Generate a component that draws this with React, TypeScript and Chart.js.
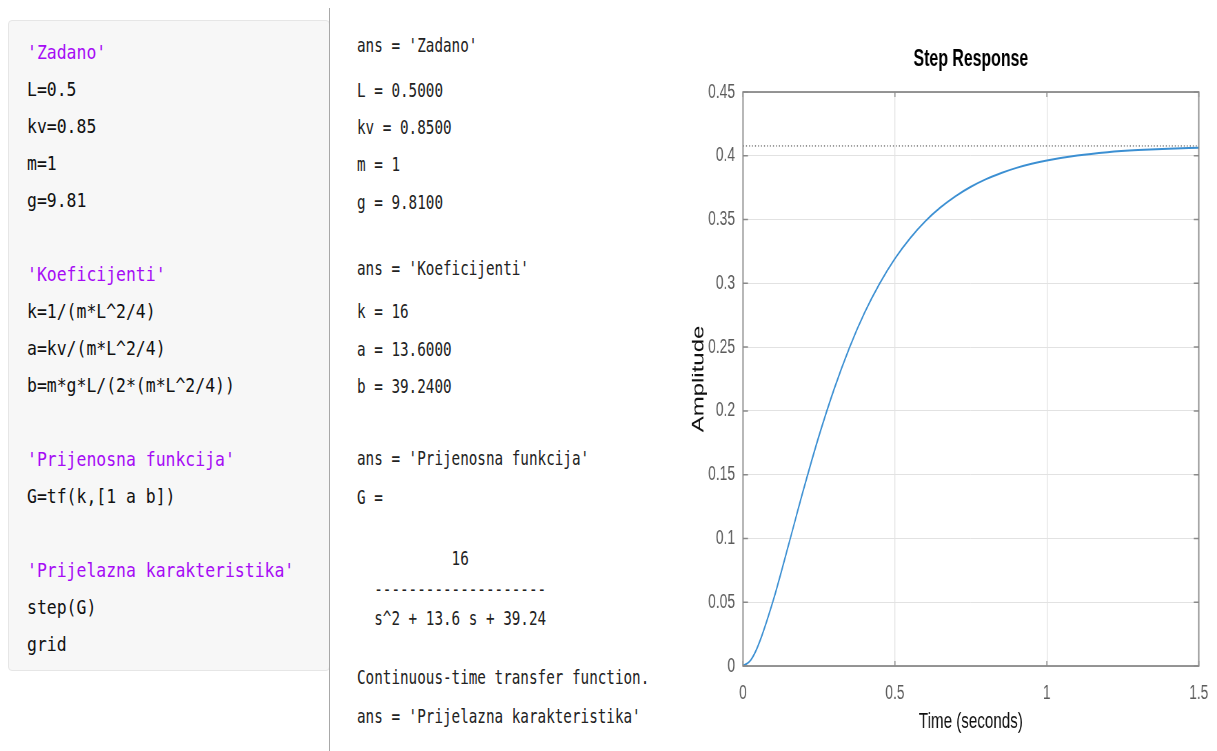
import React, { useEffect, useRef } from "react";
import { Chart, registerables } from "chart.js";

Chart.register(...registerables);

// ---- data ----
const timeValues = [0, 0.025, 0.05, 0.1, 0.15, 0.2, 0.25, 0.3, 0.35, 0.4, 0.45, 0.5, 0.55, 0.6, 0.65, 0.7, 0.75, 0.8, 0.85, 0.9, 0.95, 1.0, 1.1, 1.2, 1.3, 1.4, 1.5];
const amplitudeValues = [0, 0.0044, 0.016, 0.0518, 0.095, 0.139, 0.1803, 0.2172, 0.2494, 0.2769, 0.3, 0.3194, 0.3354, 0.3487, 0.3595, 0.3684, 0.3757, 0.3817, 0.3865, 0.3905, 0.3937, 0.3963, 0.4002, 0.4028, 0.4045, 0.4056, 0.4063];
const steadyStateValue = 0.4077;
const xTickValues = [0, 0.5, 1, 1.5];
const yTickValues = [0, 0.05, 0.1, 0.15, 0.2, 0.25, 0.3, 0.35, 0.4, 0.45];
const chartTitle = "Step Response";
const xAxisTitle = "Time (seconds)";
const yAxisTitle = "Amplitude";

// ---- texts of the left and middle panels ----
const codeLines: [string, boolean][] = [
  ["'Zadano'", true],
  ["L=0.5", false],
  ["kv=0.85", false],
  ["m=1", false],
  ["g=9.81", false],
  ["", false],
  ["'Koeficijenti'", true],
  ["k=1/(m*L^2/4)", false],
  ["a=kv/(m*L^2/4)", false],
  ["b=m*g*L/(2*(m*L^2/4))", false],
  ["", false],
  ["'Prijenosna funkcija'", true],
  ["G=tf(k,[1 a b])", false],
  ["", false],
  ["'Prijelazna karakteristika'", true],
  ["step(G)", false],
  ["grid", false],
];

const outputLines: [number, string][] = [
  [45, "ans = 'Zadano'"],
  [90, "L = 0.5000"],
  [127, "kv = 0.8500"],
  [164, "m = 1"],
  [202, "g = 9.8100"],
  [268, "ans = 'Koeficijenti'"],
  [311, "k = 16"],
  [349, "a = 13.6000"],
  [386, "b = 39.2400"],
  [458, "ans = 'Prijenosna funkcija'"],
  [497, "G = "],
  [558, "           16"],
  [589, "  --------------------"],
  [618, "  s^2 + 13.6 s + 39.24"],
  [677, "Continuous-time transfer function."],
  [716, "ans = 'Prijelazna karakteristika'"],
];

const SANS = "'Liberation Sans', Arial, sans-serif";
// the figure is horizontally squeezed in the reference: draw wide, display narrow
const SQ = 1.45;
const VIEW_W = 537;
const CANVAS_W = Math.round(VIEW_W * SQ);
const CANVAS_H = 751;

const framePlugin = {
  id: "matlabFrame",
  afterDraw(chart: any) {
    const { ctx, chartArea } = chart;
    const xs = chart.scales.x;
    const ys = chart.scales.y;
    ctx.save();
    ctx.strokeStyle = "#8a8a8a";
    ctx.lineWidth = 1.8;
    ctx.strokeRect(chartArea.left, chartArea.top, chartArea.right - chartArea.left, chartArea.bottom - chartArea.top);
    const tlx = 5;
    const tly = 5 * SQ;
    ctx.lineWidth = 1.5;
    ctx.beginPath();
    xTickValues.forEach((v) => {
      const px = xs.getPixelForValue(v);
      ctx.moveTo(px, chartArea.bottom);
      ctx.lineTo(px, chartArea.bottom - tlx);
      ctx.moveTo(px, chartArea.top);
      ctx.lineTo(px, chartArea.top + tlx);
    });
    yTickValues.forEach((v) => {
      const py = ys.getPixelForValue(v);
      ctx.moveTo(chartArea.left, py);
      ctx.lineTo(chartArea.left + tly, py);
      ctx.moveTo(chartArea.right, py);
      ctx.lineTo(chartArea.right - tly, py);
    });
    ctx.stroke();
    ctx.fillStyle = "#000";
    ctx.font = "bold 23px " + SANS;
    ctx.textAlign = "center";
    ctx.textBaseline = "middle";
    ctx.fillText(chartTitle, (chartArea.left + chartArea.right) / 2, 60);
    ctx.restore();
  },
};

function fmt(v: number) {
  return String(+Number(v).toFixed(2));
}

function StepChart() {
  const ref = useRef<HTMLCanvasElement | null>(null);
  useEffect(() => {
    if (!ref.current) return;
    const chart = new Chart(ref.current, {
      type: "line",
      data: {
        datasets: [
          {
            label: "step",
            data: timeValues.map((t, i) => ({ x: t, y: amplitudeValues[i] })),
            borderColor: "#3b8fd2",
            borderWidth: 2,
            pointRadius: 0,
            cubicInterpolationMode: "monotone",
            fill: false,
          },
          {
            label: "steady",
            data: [
              { x: xTickValues[0], y: steadyStateValue },
              { x: xTickValues[xTickValues.length - 1], y: steadyStateValue },
            ],
            borderColor: "#333333",
            borderWidth: 1,
            borderDash: [1.45, 2.9],
            pointRadius: 0,
            fill: false,
          },
        ],
      },
      options: {
        animation: false,
        responsive: false,
        maintainAspectRatio: false,
        devicePixelRatio: 1,
        layout: { padding: { top: 92, right: CANVAS_W - 519 * SQ, left: 0, bottom: 0 } },
        plugins: { legend: { display: false }, tooltip: { enabled: false }, title: { display: false } },
        scales: {
          x: {
            type: "linear",
            min: 0,
            max: 1.5,
            afterBuildTicks: (s: any) => {
              s.ticks = xTickValues.map((v) => ({ value: v }));
            },
            afterFit: (s: any) => {
              s.height = 85;
              s.paddingLeft = 0;
              s.paddingRight = 0;
            },
            ticks: { callback: (v: any) => fmt(v), color: "#5c5c5c", padding: 15, font: { size: 20, family: SANS }, maxRotation: 0, autoSkip: false },
            grid: { color: "#e2e2e2", drawTicks: false, lineWidth: 1.3 },
            border: { display: false },
            title: { display: true, text: xAxisTitle, color: "#111", font: { size: 22, family: SANS }, padding: { top: 0, bottom: 16 } },
          },
          y: {
            type: "linear",
            min: 0,
            max: 0.45,
            afterBuildTicks: (s: any) => {
              s.ticks = yTickValues.map((v) => ({ value: v }));
            },
            afterFit: (s: any) => {
              s.width = 63 * SQ;
              s.paddingTop = 0;
              s.paddingBottom = 0;
            },
            ticks: { callback: (v: any) => fmt(v), color: "#5c5c5c", padding: 8 * SQ, font: { size: 20, family: SANS }, autoSkip: false },
            grid: { color: "#e2e2e2", drawTicks: false, lineWidth: 1 },
            border: { display: false },
            title: { display: true, text: yAxisTitle, color: "#111", font: { size: 24, family: SANS }, padding: { top: 13, bottom: 0 } },
          },
        },
      },
      plugins: [framePlugin],
    } as any);
    return () => chart.destroy();
  }, []);
  return (
    <canvas
      ref={ref}
      width={CANVAS_W}
      height={CANVAS_H}
      style={{
        position: "absolute",
        left: 680,
        top: 0,
        width: CANVAS_W,
        height: CANVAS_H,
        transform: `scaleX(${VIEW_W / CANVAS_W})`,
        transformOrigin: "0 0",
      }}
    />
  );
}

export default function App() {
  const mono = "'DejaVu Sans Mono', monospace";
  return (
    <div style={{ position: "absolute", left: 0, top: 0, width: 1217, height: 751, background: "#fff", overflow: "hidden" }}>
      <div
        style={{
          position: "absolute",
          left: 8,
          top: 20,
          width: 322,
          height: 651,
          background: "#f7f7f7",
          border: "1px solid #e6e6e6",
          borderRadius: 4,
          boxSizing: "border-box",
        }}
      />
      {codeLines.map(([txt, isStr], i) => (
        <div
          key={"c" + i}
          style={{
            position: "absolute",
            left: 27,
            top: 52 - 18.5 + i * 37,
            height: 37,
            lineHeight: "37px",
            fontFamily: mono,
            fontSize: 20,
            whiteSpace: "pre",
            color: isStr ? "#a60cf5" : "#111",
            transform: "scaleX(0.822)",
            transformOrigin: "left center",
          }}
        >
          {txt}
        </div>
      ))}
      <div style={{ position: "absolute", left: 329, top: 8, width: 1, height: 743, background: "#a8a8a8" }} />
      {outputLines.map(([y, txt], i) => (
        <div
          key={"o" + i}
          style={{
            position: "absolute",
            left: 357,
            top: y - 15,
            height: 30,
            lineHeight: "30px",
            fontFamily: mono,
            fontSize: 20,
            whiteSpace: "pre",
            color: "#222",
            transform: "scaleX(0.714)",
            transformOrigin: "left center",
          }}
        >
          {txt}
        </div>
      ))}
      <StepChart />
    </div>
  );
}
